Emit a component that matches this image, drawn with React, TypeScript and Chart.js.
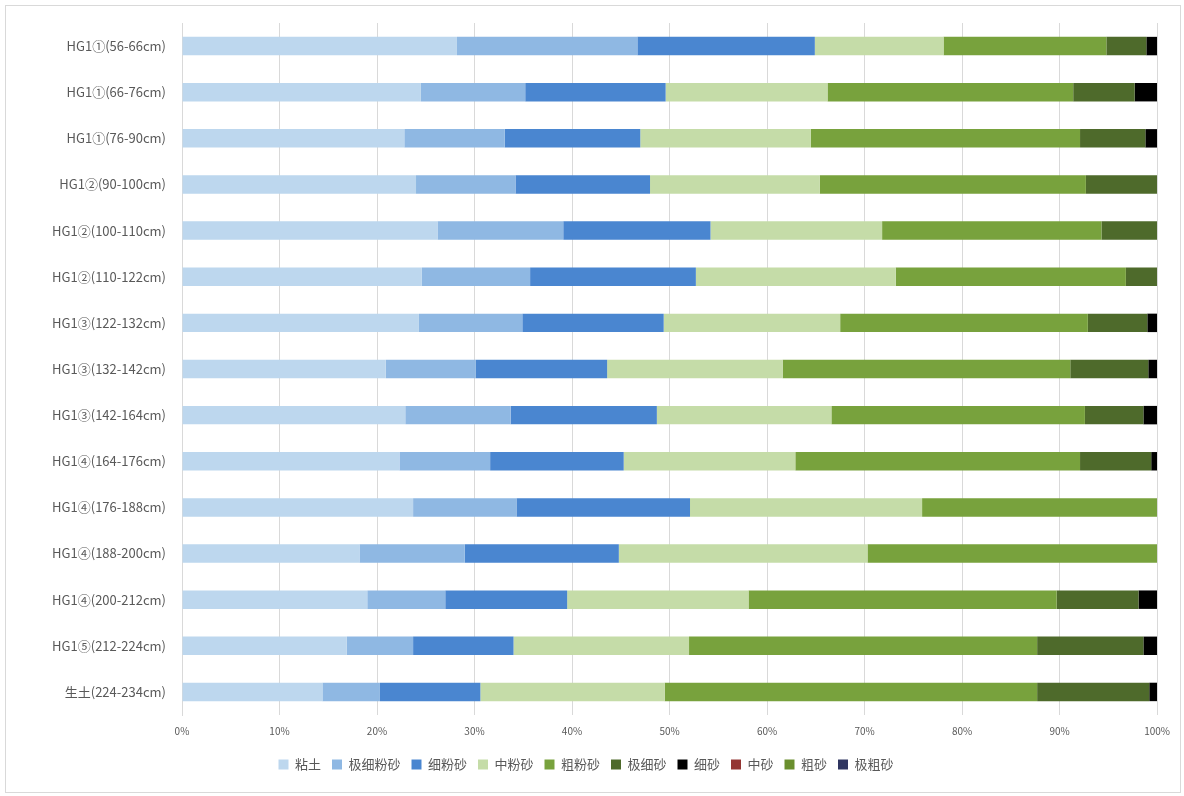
import { useRef, useEffect } from "react";
import { Chart, registerables } from "chart.js";

Chart.register(...registerables);

const labels = [
  "HG1①(56-66cm)", "HG1①(66-76cm)", "HG1①(76-90cm)", "HG1②(90-100cm)", "HG1②(100-110cm)",
  "HG1②(110-122cm)", "HG1③(122-132cm)", "HG1③(132-142cm)", "HG1③(142-164cm)", "HG1④(164-176cm)",
  "HG1④(176-188cm)", "HG1④(188-200cm)", "HG1④(200-212cm)", "HG1⑤(212-224cm)", "生土(224-234cm)",
];

const clay = [28.2, 24.5, 22.8, 24.0, 26.2, 24.6, 24.3, 20.9, 22.9, 22.3, 23.7, 18.2, 19.0, 16.9, 14.4];
const vfSilt = [18.5, 10.7, 10.3, 10.2, 12.9, 11.1, 10.6, 9.2, 10.8, 9.3, 10.6, 10.8, 8.0, 6.8, 5.9];
const fSilt = [18.2, 14.4, 13.9, 13.8, 15.1, 17.0, 14.5, 13.5, 15.0, 13.7, 17.8, 15.8, 12.5, 10.3, 10.3];
const mSilt = [13.2, 16.6, 17.5, 17.4, 17.6, 20.5, 18.1, 18.0, 17.9, 17.6, 23.8, 25.5, 18.6, 18.0, 18.9];
const cSilt = [16.7, 25.2, 27.6, 27.3, 22.5, 23.6, 25.4, 29.5, 26.0, 29.2, 24.1, 29.7, 31.6, 35.7, 38.2];
const vfSand = [4.1, 6.3, 6.7, 7.3, 5.7, 3.2, 6.1, 8.0, 6.0, 7.3, 0, 0, 8.4, 10.9, 11.5];
const fSand = [1.1, 2.3, 1.2, 0, 0, 0, 1.0, 0.9, 1.4, 0.6, 0, 0, 1.9, 1.4, 0.8];
const mSand = labels.map(() => 0);
const cSand = labels.map(() => 0);
const vcSand = labels.map(() => 0);

const seriesNames = ["粘土", "极细粉砂", "细粉砂", "中粉砂", "粗粉砂", "极细砂", "细砂", "中砂", "粗砂", "极粗砂"];
const seriesData = [clay, vfSilt, fSilt, mSilt, cSilt, vfSand, fSand, mSand, cSand, vcSand];
const colors = ["#bdd7ee", "#8fb8e3", "#4a86d0", "#c5dca8", "#78a23d", "#4e6a2b", "#000000", "#943634", "#6a8f2e", "#2f3560"];

export default function App() {
  const canvasRef = useRef<HTMLCanvasElement>(null);
  useEffect(() => {
    document.body.style.margin = "0";
    if (!canvasRef.current) return;
    const font = { family: "'Noto Sans CJK SC', 'DejaVu Sans', sans-serif", size: 13 };
    const chart = new Chart(canvasRef.current, {
      type: "bar",
      data: {
        labels,
        datasets: seriesNames.map((n, i) => ({
          label: n,
          data: seriesData[i],
          backgroundColor: colors[i],
          barPercentage: 0.4,
          categoryPercentage: 1,
        })),
      },
      options: {
        indexAxis: "y",
        animation: false,
        responsive: true,
        maintainAspectRatio: false,
        layout: { padding: { top: 17, right: 14, bottom: 11, left: 0 } },
        plugins: {
          tooltip: { enabled: false },
          legend: {
            position: "bottom",
            labels: { boxWidth: 10, boxHeight: 10, padding: 11, color: "#595959", font },
          },
        },
        scales: {
          x: {
            stacked: true,
            min: 0,
            max: 100,
            ticks: { stepSize: 10, color: "#595959", padding: 10, font: { ...font, size: 10 }, callback: (v) => v + "%" },
            grid: { color: "#d9d9d9", drawTicks: false },
            border: { display: false },
          },
          y: {
            stacked: true,
            ticks: { color: "#595959", font, padding: 8 },
            grid: { display: false },
            border: { color: "#d9d9d9" },
            afterFit: (s) => { s.width = 176; },
          },
        },
      },
    });
    return () => chart.destroy();
  }, []);
  return (
    <div style={{ position: "fixed", left: 0, top: 0, width: 1184, height: 796, background: "#fff" }}>
      <div style={{ position: "absolute", left: 5, top: 5, right: 3, bottom: 3, border: "1px solid #d9d9d9" }}>
        <canvas ref={canvasRef} />
      </div>
    </div>
  );
}
